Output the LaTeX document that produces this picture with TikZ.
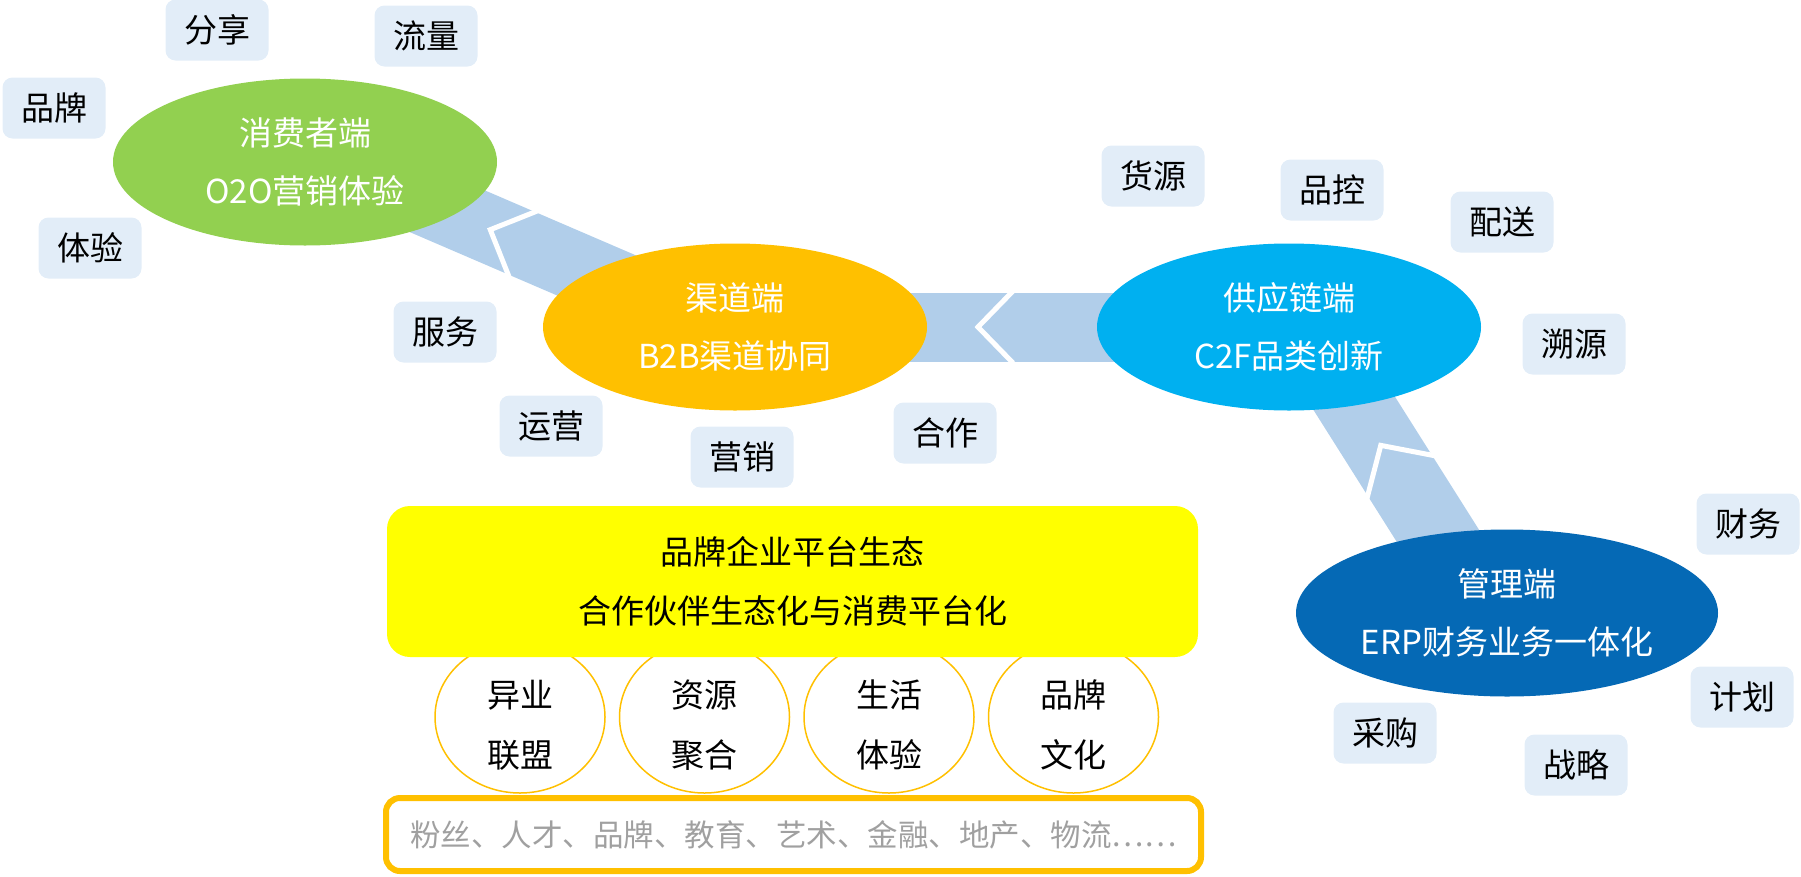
\documentclass[tikz,border=0pt]{standalone}
\usepackage{fontspec}
\setmainfont{Noto Sans CJK SC}
\usepackage{xcolor}
\usetikzlibrary{positioning,shapes.geometric,backgrounds,calc}

\definecolor{leafgreen}{HTML}{92D050}
\definecolor{amber}{HTML}{FFC000}
\definecolor{skyblue}{HTML}{00B0F0}
\definecolor{navyblue}{HTML}{0569B5}
\definecolor{bandblue}{HTML}{B1CEEA}
\definecolor{tagblue}{HTML}{E2EDF8}
\definecolor{greytext}{HTML}{A0A0A0}
\definecolor{brightyellow}{HTML}{FFFF00}

\begin{document}
\begin{tikzpicture}[
  x=1pt, y=-1pt,
  every node/.style={font=\fontsize{33}{58}\selectfont, align=center},
  hub/.style={ellipse, inner sep=0pt, text=white,
    minimum width=384pt, minimum height=167pt},
  tag/.style={fill=tagblue, rounded corners=10pt, inner sep=0pt,
    minimum width=103pt, minimum height=61pt},
  ring/.style={ellipse, draw=amber, line width=1.5pt, fill=white, inner sep=0pt,
    minimum width=170pt, minimum height=152pt, font=\fontsize{33}{60}\selectfont},
  band/.style={line width=69pt, bandblue},
  chev/.style={white, line width=5pt},
]
\useasboundingbox (0,0) rectangle (1801,876);

% four ends
\node[hub, fill=leafgreen] (consumer) at (305,162) {消费者端\\O2O营销体验};
\node[hub, fill=amber] (channel) at (735,327) {渠道端\\B2B渠道协同};
\node[hub, fill=skyblue] (supply) at (1289,327) {供应链端\\C2F品类创新};
\node[hub, fill=navyblue, minimum width=422pt] (mgmt) at (1507,613) {管理端\\ERP财务业务一体化};

% keywords
\node[tag] (share) at (217,30) {分享};
\node[tag] (traffic) at (426,36) {流量};
\node[tag] (brand) at (54,108) {品牌};
\node[tag] (experience) at (90,248) {体验};
\node[tag] (service) at (445,332) {服务};
\node[tag] (operation) at (551,426) {运营};
\node[tag] (marketing) at (742,457) {营销};
\node[tag] (cooperation) at (945,433) {合作};
\node[tag] (sourcing) at (1153,176) {货源};
\node[tag] (quality) at (1332,190) {品控};
\node[tag] (delivery) at (1502,222) {配送};
\node[tag] (tracing) at (1574,344) {溯源};
\node[tag] (finance) at (1748,524) {财务};
\node[tag] (planning) at (1742,697) {计划};
\node[tag] (strategy) at (1576,765) {战略};
\node[tag] (purchase) at (1385,733) {采购};

% platform
\node[ring] (alliance) at (520,717) {\rule{0pt}{44pt}异业\\联盟};
\node[ring, right=13pt of alliance] (resource) {\rule{0pt}{44pt}资源\\聚合};
\node[ring, right=13pt of resource] (life) {\rule{0pt}{44pt}生活\\体验};
\node[ring, right=13pt of life] (culture) {\rule{0pt}{44pt}品牌\\文化};

\node[fill=brightyellow, rounded corners=23pt, minimum width=811pt, minimum height=151pt,
  font=\fontsize{33}{59}\selectfont] (platform) at (792.5,581.5)
  {品牌企业平台生态\\合作伙伴生态化与消费平台化};

\node[draw=amber, line width=6pt, rounded corners=14pt, minimum width=815pt,
  minimum height=73pt, text=greytext, font=\fontsize{30.5}{36}\selectfont] (fields)
  at (793.5,834.5) {粉丝、人才、品牌、教育、艺术、金融、地产、物流……};

\begin{pgfonlayer}{background}
  \coordinate (b1a) at ($(consumer.center)+(0,-12)$);
  \coordinate (b1b) at ($(channel.center)+(0,8)$);
  \coordinate (b3a) at ($(supply.center)+(17,0)$);
  \coordinate (b3b) at ($(mgmt.center)+(-21,-1)$);

  \draw[band, line width=68pt] (b1a) -- (b1b);
  \draw[band] (channel.center) -- (supply.center);
  \draw[band, line width=76pt] (b3a) -- (b3b);

  \draw[chev] ($(b1a)!237.7pt!(b1b)!36pt!90:(b1b)$) -- ($(b1a)!201.7pt!(b1b)$)
    -- ($(b1a)!237.7pt!(b1b)!36pt!-90:(b1b)$);
  \draw[chev] ($(channel.center)!278pt!(supply.center)!36pt!90:(supply.center)$)
    -- ($(channel.center)!243pt!(supply.center)$)
    -- ($(channel.center)!278pt!(supply.center)!36pt!-90:(supply.center)$);
  \draw[chev] ($(b3a)!177.5pt!(b3b)!40pt!90:(b3b)$) -- ($(b3a)!140pt!(b3b)$)
    -- ($(b3a)!177.5pt!(b3b)!40pt!-90:(b3b)$);
\end{pgfonlayer}

\end{tikzpicture}
\end{document}
